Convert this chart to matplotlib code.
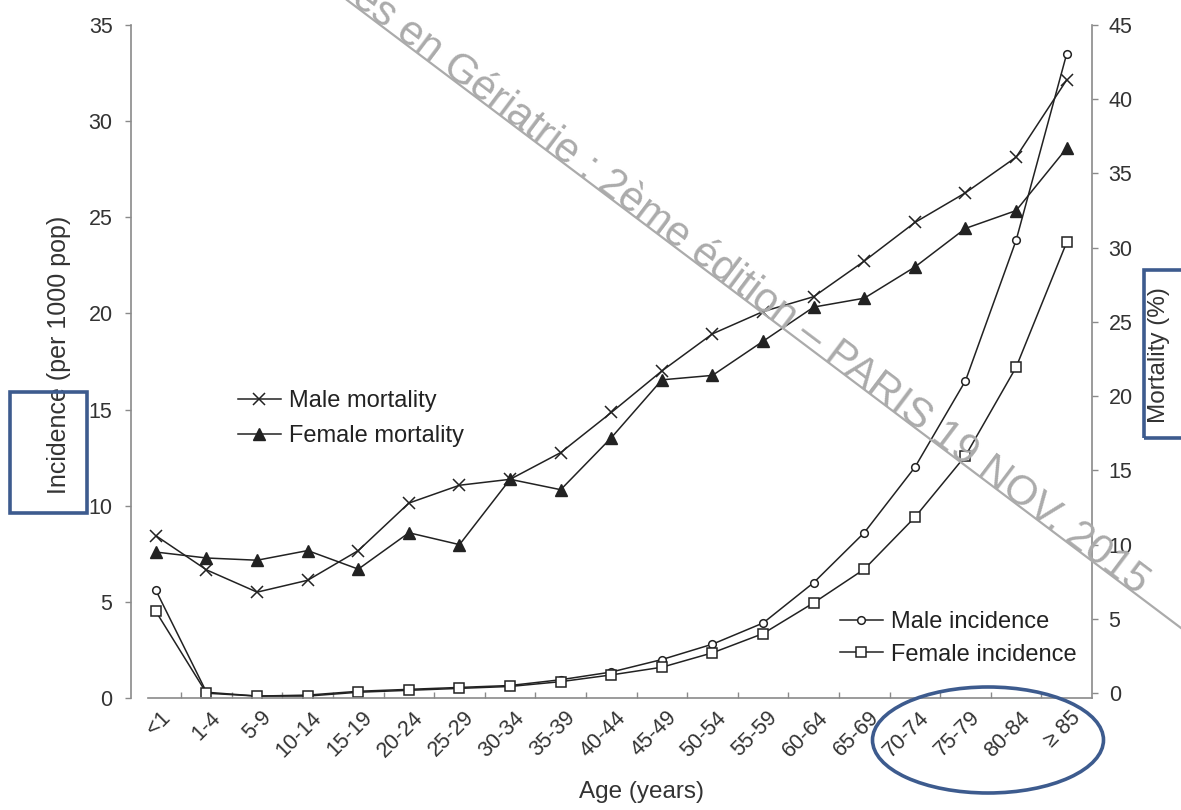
import matplotlib
matplotlib.use("Agg")
import matplotlib.pyplot as plt
import matplotlib.patches as mpatches
from matplotlib.lines import Line2D
from matplotlib.transforms import ScaledTranslation

plt.rcParams['font.family'] = ['Liberation Sans', 'DejaVu Sans']

age_groups = ["<1", "1-4", "5-9", "10-14", "15-19", "20-24", "25-29", "30-34",
              "35-39", "40-44", "45-49", "50-54", "55-59", "60-64", "65-69",
              "70-74", "75-79", "80-84", "\u2265 85"]
# incidence per 1000 pop (left axis)
male_incidence = [5.6, 0.3, 0.1, 0.15, 0.35, 0.45, 0.55, 0.65, 0.95, 1.35,
                  2.0, 2.8, 3.9, 6.0, 8.6, 12.0, 16.5, 23.8, 33.5]
female_incidence = [4.5, 0.25, 0.1, 0.1, 0.3, 0.4, 0.5, 0.6, 0.85, 1.2,
                    1.6, 2.35, 3.35, 4.95, 6.7, 9.4, 12.6, 17.2, 23.7]
# mortality % (right axis)
male_mortality = [10.6, 8.3, 6.8, 7.6, 9.6, 12.8, 14.0, 14.4, 16.2, 18.9,
                  21.7, 24.2, 25.7, 26.7, 29.1, 31.7, 33.7, 36.1, 41.3]
female_mortality = [9.5, 9.1, 8.95, 9.6, 8.35, 10.8, 10.0, 14.4, 13.7, 17.2,
                    21.1, 21.4, 23.7, 26.0, 26.6, 28.7, 31.3, 32.5, 36.7]

W, H = 1181, 810
def fx(px):
    return px / W
def fy(py):
    return 1 - py / H

fig = plt.figure(figsize=(W / 100, H / 100), dpi=100)
ax = fig.add_axes([fx(130.6), fy(698), fx(1092) - fx(130.6), fy(25) - fy(698)])
ax2 = ax.twinx()

ink = "#222222"
spine_c = "#8a8a8a"
x = list(range(len(age_groups)))

l_mi, = ax.plot(x, male_incidence, color=ink, lw=1.1, marker="o", ms=5.5,
                mfc="white", mec=ink, mew=1.1, label="Male incidence")
l_fi, = ax.plot(x, female_incidence, color=ink, lw=1.1, marker="s", ms=7.5,
                mfc="white", mec=ink, mew=1.1, label="Female incidence")
l_mm, = ax2.plot(x, male_mortality, color=ink, lw=1.1, marker="x", ms=9,
                 mew=1.1, label="Male mortality")
l_fm, = ax2.plot(x, female_mortality, color=ink, lw=1.1, marker="^", ms=8,
                 mfc=ink, mec=ink, label="Female mortality")

ax.set_xlim(-0.5, 18.5)
ax.set_ylim(0, 35)
ax2.set_ylim(-0.33, 44.53)
ax.set_yticks(range(0, 36, 5))
ax2.set_yticks(range(0, 46, 5))

for a in (ax, ax2):
    a.spines['top'].set_visible(False)
    for s in ('left', 'right', 'bottom'):
        a.spines[s].set_color(spine_c)
        a.spines[s].set_linewidth(1.2)
ax.spines['right'].set_visible(False)
ax2.spines['left'].set_visible(False)
ax2.spines['bottom'].set_visible(False)
ax.spines['bottom'].set_bounds(-0.16, 18.5)

ax.tick_params(axis='y', length=4, width=1, color=spine_c, labelsize=15.5,
               labelcolor="#333333", pad=9)
ax2.tick_params(axis='y', length=4, width=1, color=spine_c, labelsize=15.5,
                labelcolor="#333333", pad=8)

ax.set_xticks(x)
ax.set_xticks([i + 0.5 for i in x[:-1]], minor=True)
ax.set_xticklabels(age_groups, rotation=45, ha='right', va='center',
                   rotation_mode='anchor', fontsize=15.5, color="#333333")
ax.tick_params(axis='x', which='major', length=0, pad=12)
ax.tick_params(axis='x', which='minor', direction='in', length=4, width=1,
               color=spine_c)
shift = ScaledTranslation(8 / 72, 0, fig.dpi_scale_trans)
for lab in ax.get_xticklabels():
    lab.set_transform(lab.get_transform() + shift)

ax.set_xlabel("Age (years)", fontsize=17.5, color="#333333")
ax.xaxis.set_label_coords(0.531, -0.124)
ax.set_ylabel("Incidence (per 1000 pop)", fontsize=18, color="#333333")
ax.yaxis.set_label_coords(-0.062, 0.51)
ax2.set_ylabel("Mortality (%)", fontsize=17.5, color="#333333")
ax2.yaxis.set_label_coords(1.058, 0.51)

leg1 = ax2.legend(handles=[l_mm, l_fm], loc='upper left', frameon=False,
                  bbox_to_anchor=(fx(238), fy(390)), bbox_transform=fig.transFigure,
                  borderpad=0, borderaxespad=0, handlelength=1.8, handletextpad=0.35,
                  labelspacing=0.55, fontsize=17, labelcolor="#222222")
ax2.add_artist(leg1)
ax2.legend(handles=[l_mi, l_fi], loc='upper left', frameon=False,
           bbox_to_anchor=(fx(840), fy(611)), bbox_transform=fig.transFigure,
           borderpad=0, borderaxespad=0, handlelength=1.8, handletextpad=0.35,
           labelspacing=0.45, fontsize=17, labelcolor="#222222")

# watermark
wm = "#ababab"
fig.text(fx(350), fy(2), "es en G\u00e9riatrie : 2\u00e8me \u00e9dition \u2013 PARIS 19 NOV. 2015",
         rotation=-37, rotation_mode='anchor', ha='left', va='baseline',
         fontsize=30, color=wm, zorder=10)
fig.add_artist(Line2D([fx(347), fx(1181)], [fy(0), fy(628)], transform=fig.transFigure,
                      color=wm, lw=1.6, zorder=10))

# blue highlight marks
blue = "#3d5b8e"
fig.add_artist(mpatches.Rectangle((fx(10), fy(513)), fx(87) - fx(10), fy(392) - fy(513),
                                  transform=fig.transFigure, fill=False, ec=blue, lw=2.6))
fig.add_artist(mpatches.Rectangle((fx(1144), fy(438)), fx(1200) - fx(1144), fy(270) - fy(438),
                                  transform=fig.transFigure, fill=False, ec=blue, lw=2.6))
fig.add_artist(mpatches.Ellipse((fx(988), fy(740)), fx(231), 106 / H,
                                transform=fig.transFigure, fill=False, ec=blue, lw=2.6))

fig.savefig("out.png", dpi=100)
